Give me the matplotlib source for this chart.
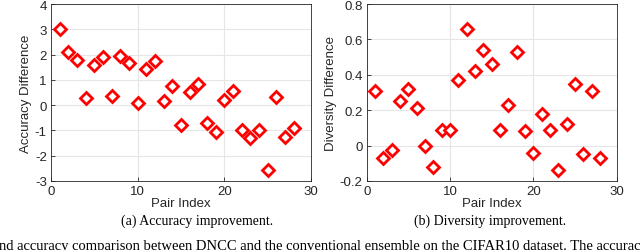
import matplotlib.pyplot as plt
import numpy as np

pair_index = list(range(1, 29))
acc_diff = [3.0, 2.1, 1.8, 0.28, 1.58, 1.9, 0.35, 1.95, 1.65, 0.1,
            1.42, 1.75, 0.18, 0.75, -0.78, 0.52, 0.85, -0.72, -1.08, 0.22,
            0.55, -1.0, -1.3, -0.98, -2.55, 0.33, -1.25, -0.9]
div_diff = [0.31, -0.07, -0.025, 0.25, 0.32, 0.21, 0.0, -0.12, 0.09, 0.09,
            0.37, 0.66, 0.42, 0.54, 0.46, 0.09, 0.23, 0.53, 0.08, -0.04,
            0.18, 0.09, -0.14, 0.12, 0.35, -0.05, 0.31, -0.07]

acc_ticks = [-3, -2, -1, 0, 1, 2, 3, 4]
div_ticks = [-0.2, 0, 0.2, 0.4, 0.6, 0.8]
x_ticks = [0, 10, 20, 30]

# caption line of the paper, cut off by the crop
caption_line = ('nd accuracy comparison between DNCC and the conventional ensemble '
                'on the CIFAR10 dataset. The accurac')


def style_axes(ax, x, y, yticks, ylabels, ylabel):
    ax.plot(x, y, linestyle='none', marker='D', markersize=6.5,
            markerfacecolor='white', markeredgecolor='red', markeredgewidth=2.0)
    ax.set_xlim(0, 30)
    ax.set_ylim(yticks[0], yticks[-1])
    ax.set_xticks(x_ticks)
    ax.set_yticks(yticks)
    ax.set_yticklabels(ylabels)
    ax.grid(True, color='#e6e6e6', linewidth=0.8)
    ax.set_axisbelow(True)
    for s in ax.spines.values():
        s.set_color('#262626')
        s.set_linewidth(0.6)
    ax.tick_params(direction='in', length=3, width=0.6, colors='#262626',
                   labelsize=9.5, top=False, right=False, pad=3)
    ax.set_xlabel('Pair Index', fontsize=9.5, color='#262626', labelpad=0)
    ax.set_ylabel(ylabel, fontsize=9.5, color='#262626', labelpad=2)


plt.rcParams['font.family'] = ['Liberation Sans', 'DejaVu Sans']

fig = plt.figure(figsize=(6.4, 2.51), dpi=100)
ax1 = fig.add_axes([0.0797, 0.275, 0.4063, 0.705])
ax2 = fig.add_axes([0.573, 0.275, 0.3905, 0.705])

style_axes(ax1, pair_index, acc_diff, acc_ticks,
           [str(t) for t in acc_ticks], 'Accuracy Difference')
style_axes(ax2, pair_index, div_diff, div_ticks,
           ['-0.2', '0', '0.2', '0.4', '0.6', '0.8'], 'Diversity Difference')

fig.text(197 / 640, 1 - 221 / 251, '(a) Accuracy improvement.', ha='center', va='center',
         fontsize=10, family='Liberation Serif')
fig.text(490 / 640, 1 - 221 / 251, '(b) Diversity improvement.', ha='center', va='center',
         fontsize=10, family='Liberation Serif')
fig.text(-0.002, 1 - 240.5 / 251, caption_line, ha='left', va='top',
         fontsize=10.5, family='Liberation Serif')

fig.savefig('out.png', dpi=100)
